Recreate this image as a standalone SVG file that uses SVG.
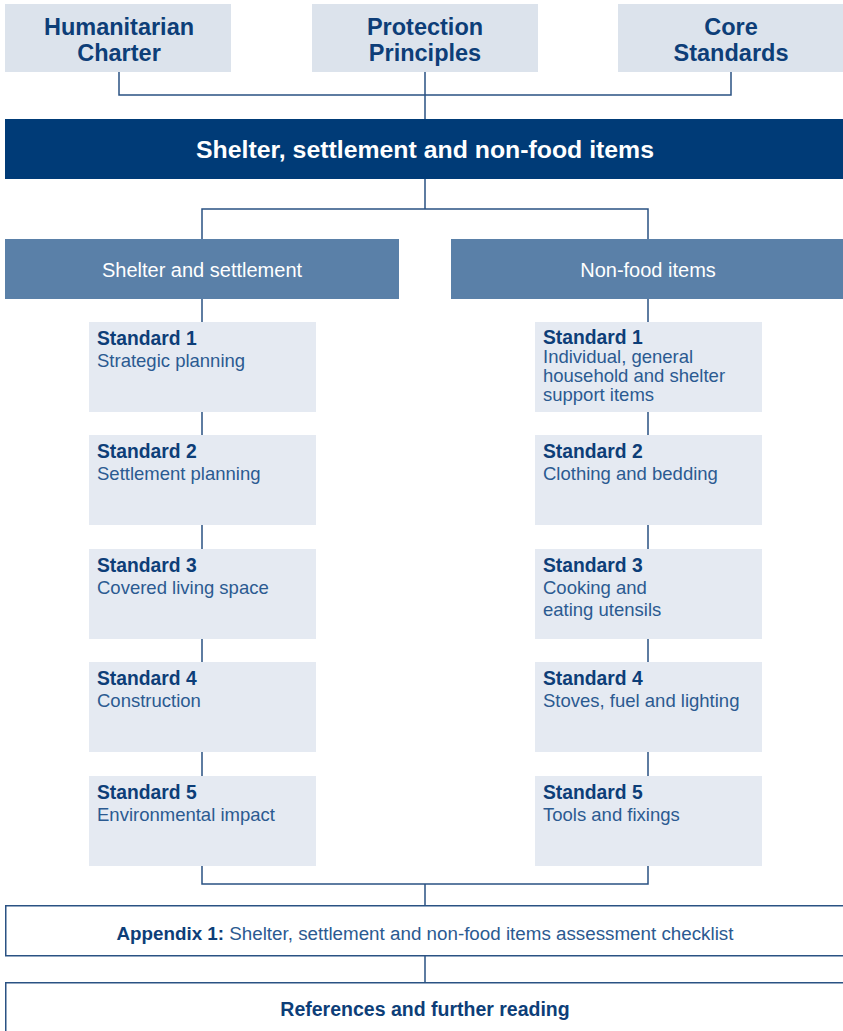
<svg xmlns="http://www.w3.org/2000/svg" width="843" height="1031" viewBox="0 0 843 1031">
<style>
text{font-family:"Liberation Sans",Arial,sans-serif}
.top{fill:#dce3ec}
.std{fill:#e5eaf2}
.tt{font-size:23.5px;font-weight:bold;fill:#0d3e78;text-anchor:middle}
.b{font-weight:bold;fill:#0d3e78}
.r{fill:#2b5a91}
.s{font-size:18.5px}
.s .b{font-size:19.3px}
.h{font-size:20px;fill:#fff;text-anchor:middle}
.c{fill:none;stroke:#2a5283;stroke-width:1.5}
</style>
<g id="connectors">
<path class="c" d="M119 72V95H731V72M425 72V119"/>
<path class="c" d="M425 179V209M202 239V209H648V239"/>
<path class="c" d="M202 299V322M202 412V435M202 525V549M202 639V662M202 752V776"/>
<path class="c" d="M648 299V322M648 412V435M648 525V549M648 639V662M648 752V776"/>
<path class="c" d="M202 866V884H648V866M425 884V905M425 956V982"/>
</g>
<g id="humanitarian-charter"><rect class="top" x="5" y="4" width="226" height="68"/><text class="tt" x="119" y="35">Humanitarian</text><text class="tt" x="119" y="61">Charter</text></g>
<g id="protection-principles"><rect class="top" x="312" y="4" width="226" height="68"/><text class="tt" x="425" y="35">Protection</text><text class="tt" x="425" y="61">Principles</text></g>
<g id="core-standards"><rect class="top" x="618" y="4" width="225" height="68"/><text class="tt" x="731" y="35">Core</text><text class="tt" x="731" y="61">Standards</text></g>
<g id="main"><rect x="5" y="119" width="838" height="60" fill="#003b77"/><text x="425" y="158" font-size="23.5" font-weight="bold" fill="#fff" text-anchor="middle" textLength="458" lengthAdjust="spacingAndGlyphs">Shelter, settlement and non-food items</text></g>
<g id="shelter-settlement"><rect x="5" y="239" width="394" height="60" fill="#5a80a8"/><text class="h" x="202" y="277">Shelter and settlement</text></g>
<g id="non-food-items"><rect x="451" y="239" width="392" height="60" fill="#5a80a8"/><text class="h" x="648" y="277">Non-food items</text></g>
<g id="ss1"><rect class="std" x="89" y="322" width="227" height="90"/><text class="s" x="97" y="345"><tspan class="b">Standard 1</tspan><tspan class="r" x="97" dy="22">Strategic planning</tspan></text></g>
<g id="ss2"><rect class="std" x="89" y="435" width="227" height="90"/><text class="s" x="97" y="458"><tspan class="b">Standard 2</tspan><tspan class="r" x="97" dy="22">Settlement planning</tspan></text></g>
<g id="ss3"><rect class="std" x="89" y="549" width="227" height="90"/><text class="s" x="97" y="572"><tspan class="b">Standard 3</tspan><tspan class="r" x="97" dy="22">Covered living space</tspan></text></g>
<g id="ss4"><rect class="std" x="89" y="662" width="227" height="90"/><text class="s" x="97" y="685"><tspan class="b">Standard 4</tspan><tspan class="r" x="97" dy="22">Construction</tspan></text></g>
<g id="ss5"><rect class="std" x="89" y="776" width="227" height="90"/><text class="s" x="97" y="799"><tspan class="b">Standard 5</tspan><tspan class="r" x="97" dy="22">Environmental impact</tspan></text></g>
<g id="nfi1"><rect class="std" x="535" y="322" width="227" height="90"/><text class="s" x="543" y="344"><tspan class="b">Standard 1</tspan><tspan class="r" x="543" dy="19">Individual, general</tspan><tspan class="r" x="543" dy="19">household and shelter</tspan><tspan class="r" x="543" dy="19">support items</tspan></text></g>
<g id="nfi2"><rect class="std" x="535" y="435" width="227" height="90"/><text class="s" x="543" y="458"><tspan class="b">Standard 2</tspan><tspan class="r" x="543" dy="22">Clothing and bedding</tspan></text></g>
<g id="nfi3"><rect class="std" x="535" y="549" width="227" height="90"/><text class="s" x="543" y="572"><tspan class="b">Standard 3</tspan><tspan class="r" x="543" dy="21.5">Cooking and</tspan><tspan class="r" x="543" dy="22">eating utensils</tspan></text></g>
<g id="nfi4"><rect class="std" x="535" y="662" width="227" height="90"/><text class="s" x="543" y="685"><tspan class="b">Standard 4</tspan><tspan class="r" x="543" dy="22">Stoves, fuel and lighting</tspan></text></g>
<g id="nfi5"><rect class="std" x="535" y="776" width="227" height="90"/><text class="s" x="543" y="799"><tspan class="b">Standard 5</tspan><tspan class="r" x="543" dy="22">Tools and fixings</tspan></text></g>
<g id="appendix"><rect x="5.75" y="905.75" width="840" height="50" fill="#fff" stroke="#2a5283" stroke-width="1.5"/><text x="425" y="940" font-size="18.8" text-anchor="middle"><tspan class="b">Appendix 1:</tspan><tspan class="r"> Shelter, settlement and non-food items assessment checklist</tspan></text></g>
<g id="references"><rect x="5.75" y="982.75" width="840" height="60" fill="#fff" stroke="#2a5283" stroke-width="1.5"/><text class="b" x="425" y="1016" font-size="19.5" text-anchor="middle">References and further reading</text></g>
</svg>
